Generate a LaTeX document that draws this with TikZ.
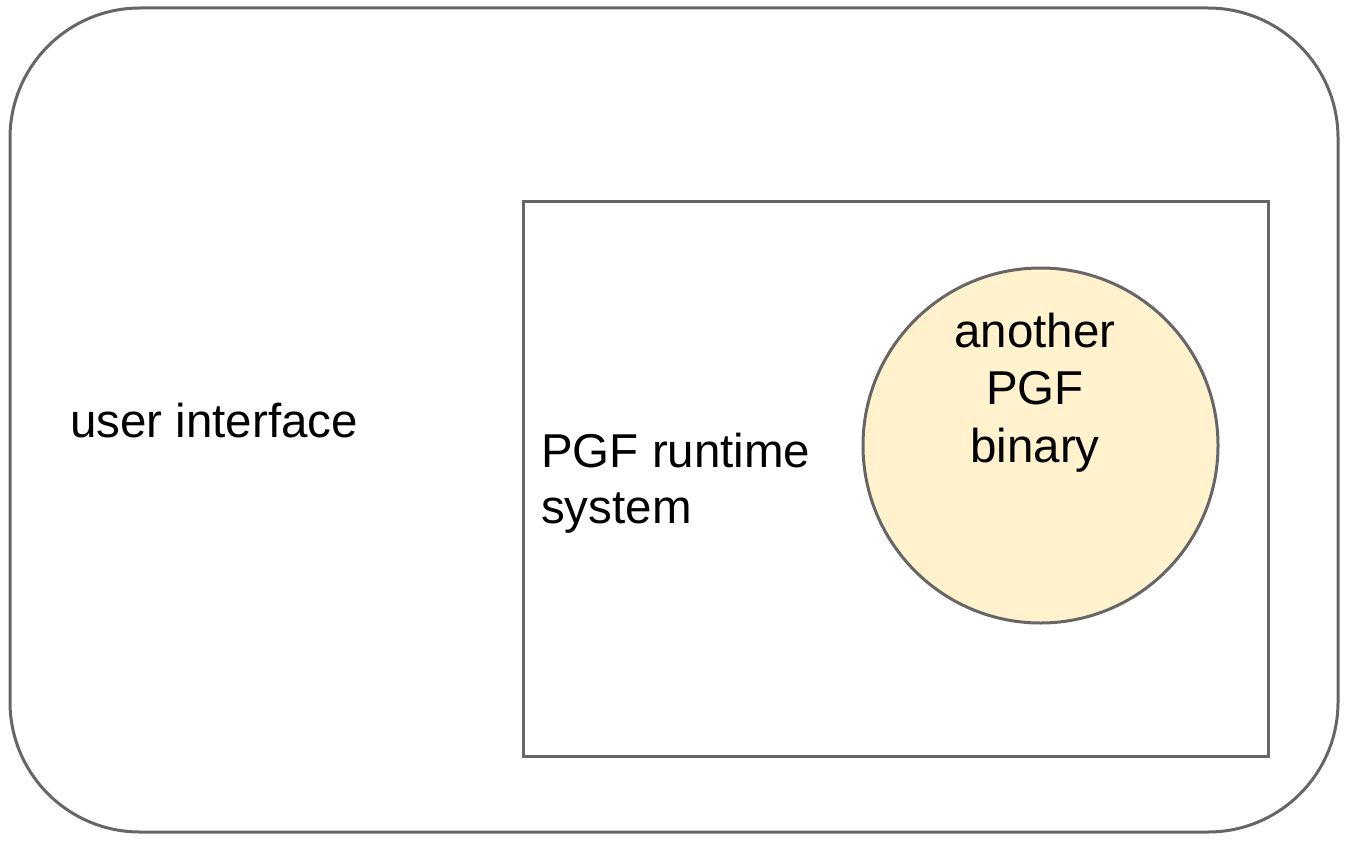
\documentclass[tikz,border=0pt]{standalone}
\usepackage{fontspec}
\setmainfont{Liberation Sans}
\definecolor{strokegray}{HTML}{666666}
\definecolor{paleyellow}{HTML}{FFF2CC}
\tikzset{
  shapeline/.style={draw=strokegray, line width=3pt},
  lbl/.style={font=\fontsize{47.5}{57.5}\selectfont, inner sep=0pt, text=black},
}
\begin{document}
\begin{tikzpicture}[x=1pt,y=-1pt]
\useasboundingbox (0,0) rectangle (1348,840);
\draw[shapeline, rounded corners=130] (10,8) rectangle (1338,832);
\node[shapeline, rectangle, minimum width=745pt, minimum height=555pt, anchor=north west, inner sep=0pt] (rts) at (522,200) {};
\node[shapeline, circle, fill=paleyellow, minimum size=355pt, inner sep=0pt] (bin) at (1040.5,445.5) {};
\node[lbl, anchor=base west] (ui) at (70,437) {user interface};
\node[lbl, anchor=base west, align=left, font=\fontsize{47.5}{56}\selectfont] (rtl) at (541,523) {PGF runtime\\system};
\node[lbl, anchor=base, align=center] (binl) at (1035,462) {another\\PGF\\binary};
\end{tikzpicture}
\end{document}
